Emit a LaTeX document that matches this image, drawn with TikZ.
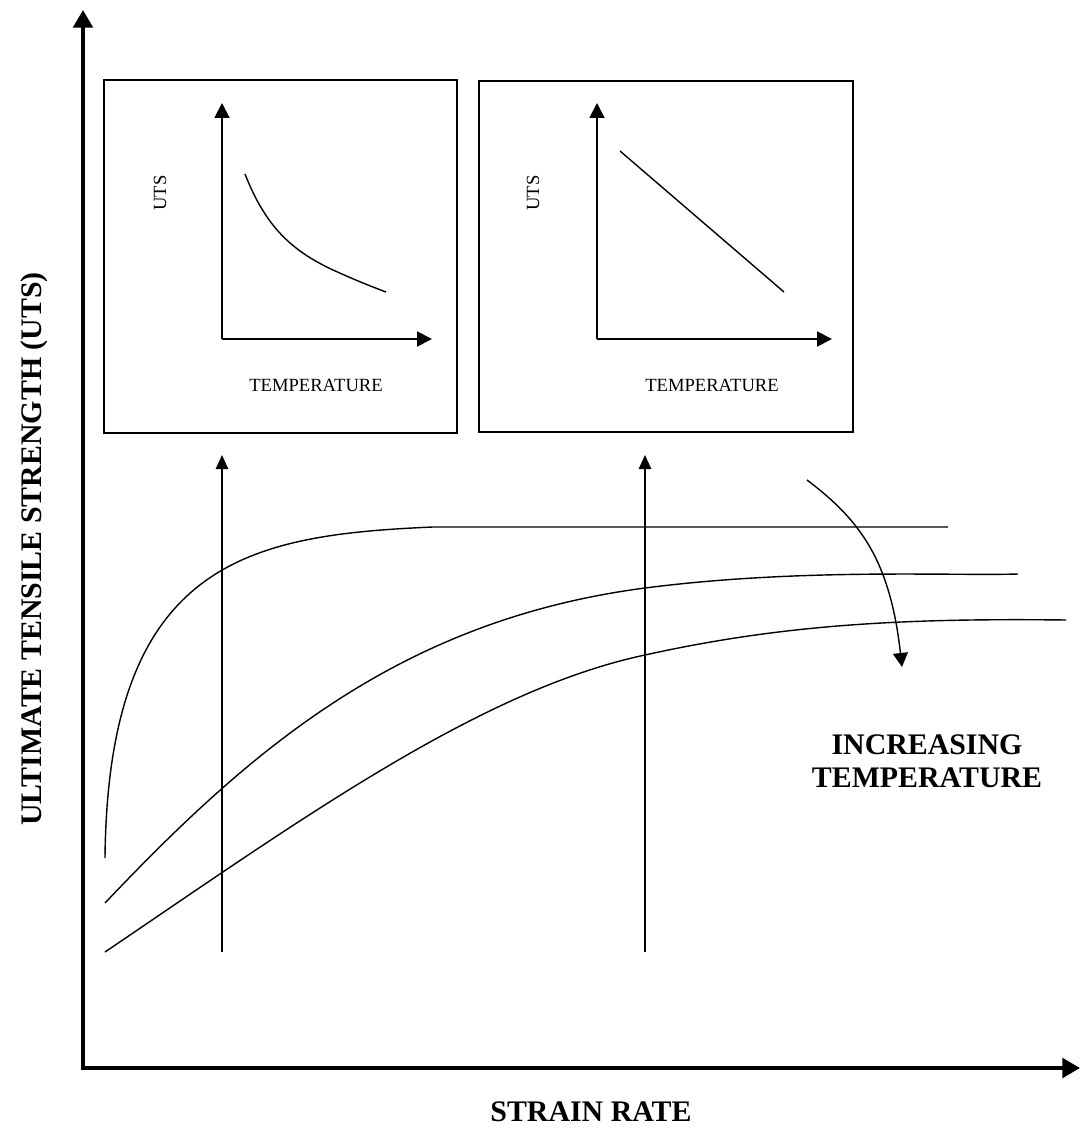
\documentclass[tikz,border=0pt]{standalone}
\usepackage{fontspec}
\setmainfont{Liberation Serif}
\usetikzlibrary{arrows.meta}
\begin{document}
\begin{tikzpicture}[x=0.02cm,y=-0.02cm,
	bigaxis/.style={line width=2.3pt,-{Triangle[length=10pt,width=11pt]}},
	smallaxis/.style={line width=1.1pt,-{Triangle[length=8.5pt,width=8.5pt]}},
	riser/.style={line width=1.1pt,-{Triangle[length=8pt,width=7pt]}},
	curve/.style={line width=0.8pt},
	insetbox/.style={draw,line width=0.8pt},
	biglabel/.style={font=\fontsize{17}{19}\selectfont\bfseries,align=center},
	smalllabel/.style={font=\fontsize{10.6}{13}\selectfont}]
	\useasboundingbox (0,0) rectangle (1082,1135);

	\coordinate (O) at (83,1068);
	\coordinate (ytip) at (83,10);
	\coordinate (xtip) at (1080,1068);
	\draw[bigaxis] ([yshift=-1.1pt]O) -- (ytip);
	\draw[bigaxis] ([xshift=-1.1pt]O) -- (xtip);
	\node[biglabel,rotate=90] (ylabel) at (34,549) {ULTIMATE TENSILE STRENGTH (UTS)};
	\node[biglabel] (xlabel) at (591,1112) {STRAIN RATE};

	\draw[insetbox] (104,80) rectangle (457,433);
	\coordinate (Oa) at (222,339);
	\draw[smallaxis] (Oa) -- (222,103);
	\draw[smallaxis] (Oa) -- (432,339);
	\node[smalllabel,rotate=90] (utsa) at (160,193) {UTS};
	\node[smalllabel] (tempa) at (316,385) {TEMPERATURE};
	\draw[curve] (245,174) .. controls (265,225) and (290,250) .. (333,270)
		.. controls (355,280) and (370,286) .. (386,292);

	\draw[insetbox] (479,81) rectangle (853,432);
	\coordinate (Ob) at (597,339);
	\draw[smallaxis] (Ob) -- (597,103);
	\draw[smallaxis] (Ob) -- (832,339);
	\node[smalllabel,rotate=90] (utsb) at (533,193) {UTS};
	\node[smalllabel] (tempb) at (712,385) {TEMPERATURE};
	\draw[curve] (620,151) -- (784,292);

	\draw[riser] (222,952) -- (222,455);
	\draw[riser] (645,952) -- (645,455);

	\draw[curve] (105,858) .. controls (108,560) and (250,535) .. (433,527) -- (948,527);
	\draw[curve] (105,903) .. controls (250,750) and (400,620) .. (645,588)
		.. controls (800,568) and (950,576) .. (1018,574);
	\draw[curve] (105,952) .. controls (300,820) and (480,690) .. (645,655)
		.. controls (780,625) and (900,618) .. (1066,620);

	\draw[curve,-{Triangle[length=8pt,width=8.5pt]}] (807,480) .. controls (860,520) and (890,560) .. (902,667);
	\node[biglabel] (incr) at (927,761) {INCREASING\\TEMPERATURE};
\end{tikzpicture}
\end{document}
